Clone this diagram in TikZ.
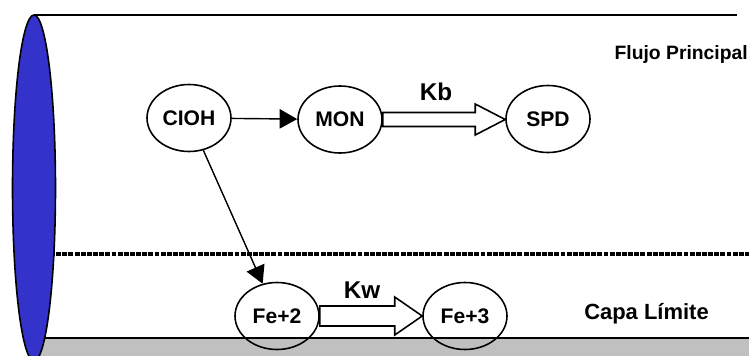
\documentclass[tikz,border=0pt]{standalone}
\usepackage{fontspec}
\setmainfont{Liberation Sans}
\usepackage{xcolor}
\definecolor{Col1}{RGB}{51,51,204}
\definecolor{Col2}{RGB}{192,192,192}
\usepackage{tikz}
\usetikzlibrary{shapes}
\usetikzlibrary{calc}
\usetikzlibrary{arrows.meta}
\tikzstyle{Species}=[ellipse,draw=black,line width=0.9pt,minimum width=1.68cm,
minimum height=1.34cm,inner sep=0pt,font=\fontsize{12}{13}\selectfont\bfseries]
\tikzstyle{Edge}=[draw=black,line width=0.8pt,-{Triangle[length=10pt,width=11pt]}]
\tikzstyle{Hollow}=[draw=black,line width=0.9pt,fill=white,line join=miter]
\tikzstyle{Rate}=[font=\fontsize{13.8}{15}\selectfont\bfseries]
\tikzstyle{Zone}=[font=\fontsize{12.5}{14}\selectfont\bfseries]

\begin{document}
\begin{tikzpicture}
        \clip(0,0)rectangle(14.98,-7.1);
        % pipe
        \draw[line width=0.9pt](0.68,-0.30)--(14.74,-0.30);
        \fill[Col2](0.68,-6.76)rectangle(14.98,-7.2);
        \draw[line width=0.9pt](0.68,-6.76)--(14.98,-6.76);
        \draw[line width=1.8pt,dash pattern=on 2.8pt off 0.7pt](1.0,-5.08)--(14.98,-5.08);
        \draw[fill=Col1,line width=0.9pt](0.68,-3.76)ellipse[x radius=0.43,y radius=3.46];
        % species
        \node[Species](CIOH)at(3.78,-2.36){CIOH};
        \node[Species](MON)at(6.80,-2.39){MON};
        \node[Species](SPD)at(10.96,-2.38){SPD};
        \node[Species](Fe2)at(5.54,-6.32){Fe+2};
        \node[Species](Fe3)at(9.30,-6.32){Fe+3};
        \draw[Edge](CIOH)--(MON);
        \draw[Edge](CIOH)--(Fe2);
        \draw[Hollow]let\p1=(MON.east),\p2=(SPD.west)in
            (\x1,\y1+0.14cm)--(\x2-0.6cm,\y1+0.14cm)--(\x2-0.6cm,\y1+0.31cm)--
            (\x2,\y1)--(\x2-0.6cm,\y1-0.31cm)--(\x2-0.6cm,\y1-0.14cm)--
            (\x1,\y1-0.14cm)--cycle;
        \draw[Hollow]let\p1=(Fe2.east),\p2=(Fe3.west)in
            (\x1,\y1+0.2cm)--(\x2-0.55cm,\y1+0.2cm)--(\x2-0.55cm,\y1+0.38cm)--
            (\x2,\y1)--(\x2-0.55cm,\y1-0.38cm)--(\x2-0.55cm,\y1-0.2cm)--
            (\x1,\y1-0.2cm)--cycle;
        \node[Rate](Kb)at(8.72,-1.84){Kb};
        \node[Rate](Kw)at(7.24,-5.80){Kw};
        % zones
        \node[Zone,anchor=east,font=\fontsize{11}{13}\selectfont\bfseries,inner xsep=0.5pt](FP)at(14.98,-1.10){Flujo Principal};
        \node[Zone](CL)at(12.93,-6.28){Capa Límite};
    \end{tikzpicture}
\end{document}
